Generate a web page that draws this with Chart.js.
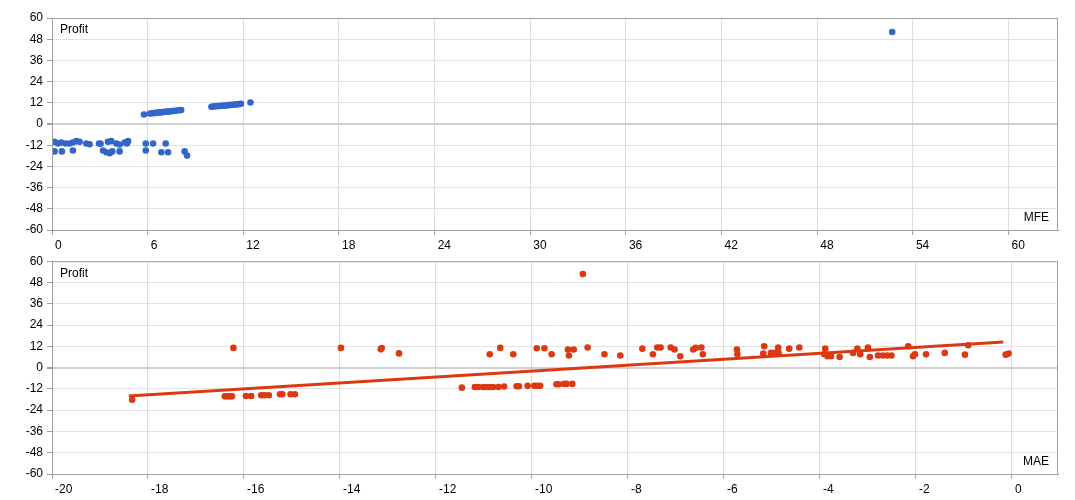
<!DOCTYPE html>
<html>
<head>
<meta charset="utf-8">
<script src="https://cdn.jsdelivr.net/npm/chart.js@4.4.0/dist/chart.umd.min.js"></script>
<style>
  body { margin: 0; background: #fff; }
  .box { position: relative; width: 1075px; height: 250px; }
</style>
</head>
<body>
<div class="box"><canvas id="mfeChart"></canvas></div>
<div class="box"><canvas id="maeChart"></canvas></div>
<script>
// MFE chart (top)
const mfeValues = [0.16, 0.37, 0.58, 0.85, 1.1, 1.31, 1.52, 1.73, 2.15, 2.36, 2.95, 3.05, 3.51, 3.72, 4.04, 4.24, 4.56, 4.7, 4.77, 5.88, 6.34, 7.13,
  0.16, 0.62, 1.31, 3.2, 3.41, 3.62, 3.78, 4.24, 5.88, 6.86, 7.28, 8.32, 8.47,
  5.77, 6.15, 6.3, 6.4, 6.5, 6.6, 6.7, 6.8, 6.9, 7.0, 7.1, 7.2, 7.35, 7.45, 7.55, 7.7, 7.85, 8.0, 8.1,
  10.0, 10.1, 10.2, 10.35, 10.5, 10.6, 10.75, 10.9, 11.0, 11.1, 11.2, 11.35, 11.5, 11.6, 11.75, 11.85, 12.45,
  52.7];
const mfeProfit = [-10.1, -11, -10.5, -11, -11, -10.5, -9.7, -10.1, -11, -11.5, -11, -11.2, -10.1, -9.7, -11, -11.6, -10.5, -11, -9.7, -11, -11, -11,
  -15.5, -15.5, -15, -15, -16, -16.5, -15.5, -15.5, -15, -16, -16, -15.5, -17.9,
  5.4, 5.9, 6.1, 6.2, 6.3, 6.4, 6.5, 6.6, 6.7, 6.8, 6.9, 7.0, 7.1, 7.2, 7.3, 7.5, 7.6, 7.8, 7.9,
  9.8, 9.9, 10.0, 10.1, 10.2, 10.3, 10.4, 10.5, 10.6, 10.7, 10.8, 10.9, 11.0, 11.1, 11.3, 11.4, 12.2,
  52.1];
const mfeTicks = [0, 6, 12, 18, 24, 30, 36, 42, 48, 54, 60];

// MAE chart (bottom)
const maeValues = [-18.33, -16.22, -16.4, -16.35, -16.3, -16.25, -15.96, -15.85, -15.64, -15.57, -15.48, -15.25, -15.2, -15.03, -14.94, -13.98, -13.15, -13.13, -12.77,
  -11.46, -11.19, -11.12, -11.02, -10.95, -10.88, -10.81, -10.7, -10.58, -10.32, -10.27, -10.09, -9.95, -9.89, -9.83, -9.49, -9.44, -9.33, -9.28, -9.16,
  -10.88, -10.66, -10.39, -9.9, -9.74, -9.59, -9.25, -9.23, -9.13, -8.94, -8.84, -8.49, -8.16, -7.7, -7.48, -7.39, -7.32, -7.11, -7.03, -6.91, -6.64, -6.59, -6.47, -6.44, -5.73, -5.72,
  -5.16, -5.18, -5.02, -4.95, -4.87, -4.86, -4.64, -4.43, -3.89, -3.91, -3.84, -3.77, -3.59, -3.31, -3.22, -3.16, -3.0, -2.96, -2.79, -2.69, -2.6, -2.51, -2.16, -2.06, -2.02, -1.79, -1.4, -0.98, -0.91, -0.13, -0.07];
const maeProfit = [-18.1, 11.1, -16.2, -16.2, -16.2, -16.2, -16, -16, -15.6, -15.6, -15.6, -15, -15, -15, -15, 11.1, 10.3, 11, 8,
  -11.3, -10.9, -10.9, -10.9, -10.9, -10.9, -10.9, -10.9, -10.7, -10.5, -10.5, -10.3, -10.3, -10.3, -10.3, -9.4, -9.4, -9.2, -9.2, -9.2,
  7.5, 11.1, 7.5, 10.9, 10.9, 7.5, 10.2, 6.8, 10.2, 52.8, 11.3, 7.5, 6.8, 10.7, 7.5, 11.3, 11.3, 11.3, 10.2, 6.4, 10.2, 11.1, 11.3, 7.5, 10.2, 7.5,
  12.0, 7.9, 8.3, 8.3, 11.3, 8.3, 10.7, 11.3, 10.7, 7.5, 6.4, 6.4, 6.0, 8.3, 10.7, 7.5, 11.3, 6.0, 6.8, 6.8, 6.8, 6.8, 12.0, 6.4, 7.5, 7.5, 8.3, 7.3, 12.6, 7.3, 7.9];
const trendX = [-18.4, -0.18];
const trendY = [-16.0, 14.4];
const maeTicks = [-20, -18, -16, -14, -12, -10, -8, -6, -4, -2, 0];

const profitTicks = [-60, -48, -36, -24, -12, 0, 12, 24, 36, 48, 60];

const FONT = { family: '"Liberation Sans", Arial, sans-serif', size: 12 };

// plot frame + axis titles inside the plot
const frame = {
    id: "frame",
    afterDraw(chart, args, opts) {
        const { ctx, chartArea: a } = chart;
        ctx.save();
        ctx.strokeStyle = "#a0a0a0";
        ctx.lineWidth = 1;
        ctx.strokeRect(a.left + 0.5, a.top + 0.5, a.right - a.left - 1, a.bottom - a.top);
        ctx.fillStyle = "#000";
        ctx.font = '12px "Liberation Sans", Arial, sans-serif';
        ctx.textBaseline = "middle";
        ctx.textAlign = "left";
        ctx.fillText(opts.yTitle, a.left + 8, a.top + 12);
        ctx.textAlign = "right";
        ctx.fillText(opts.xTitle, a.right - 9, a.bottom - 12);
        ctx.restore();
    }
};

function zip(xs, ys) {
    return xs.map((x, i) => ({ x, y: ys[i] }));
}

function makeOptions(xMin, xMax, xTicks, padTop, xHeight, xTitle) {
    return {
        responsive: true,
        maintainAspectRatio: false,
        animation: false,
        layout: { padding: { top: padTop, right: 17, left: 0, bottom: 0 } },
        plugins: {
            legend: { display: false },
            tooltip: { enabled: false },
            frame: { xTitle, yTitle: "Profit" },
        },
        scales: {
            x: {
                type: "linear",
                min: xMin,
                max: xMax,
                afterBuildTicks: s => { s.ticks = xTicks.map(v => ({ value: v })); },
                afterFit: s => { s.height = xHeight; },
                grid: { color: "#dcdcdc", tickColor: "#a0a0a0", tickLength: 5 },
                border: { color: "#a0a0a0" },
                ticks: { align: "start", labelOffset: 3, padding: 3, color: "#000", font: FONT, maxRotation: 0, autoSkip: false },
            },
            y: {
                min: -60,
                max: 60,
                afterBuildTicks: s => { s.ticks = profitTicks.map(v => ({ value: v })); },
                afterFit: s => { s.width = 52; },
                grid: {
                    color: c => (c.tick && c.tick.value === 0 ? "#d0d0d0" : "#e2e2e2"),
                    lineWidth: c => (c.tick && c.tick.value === 0 ? 2 : 1),
                    tickColor: "#a0a0a0",
                    tickLength: 5,
                },
                border: { color: "#a0a0a0" },
                ticks: { padding: 4, color: "#000", font: FONT, autoSkip: false },
            },
        },
    };
}

new Chart(document.getElementById("mfeChart"), {
    type: "scatter",
    data: {
        datasets: [{
            data: zip(mfeValues, mfeProfit),
            backgroundColor: "#3366cc",
            borderColor: "#3366cc",
            pointRadius: 3.3,
            borderWidth: 0,
        }],
    },
    options: makeOptions(0, 63.1, mfeTicks, 18, 20, "MFE"),
    plugins: [frame],
});

new Chart(document.getElementById("maeChart"), {
    type: "scatter",
    data: {
        datasets: [
            {
                data: zip(trendX, trendY),
                showLine: true,
                borderColor: "#dc3912",
                borderWidth: 3,
                pointRadius: 0,
            },
            {
                data: zip(maeValues, maeProfit),
                backgroundColor: "#dc3912",
                borderColor: "#dc3912",
                pointRadius: 3.3,
                borderWidth: 0,
            },
        ],
    },
    options: makeOptions(-20, 0.96, maeTicks, 11, 26, "MAE"),
    plugins: [frame],
});
</script>
</body>
</html>
